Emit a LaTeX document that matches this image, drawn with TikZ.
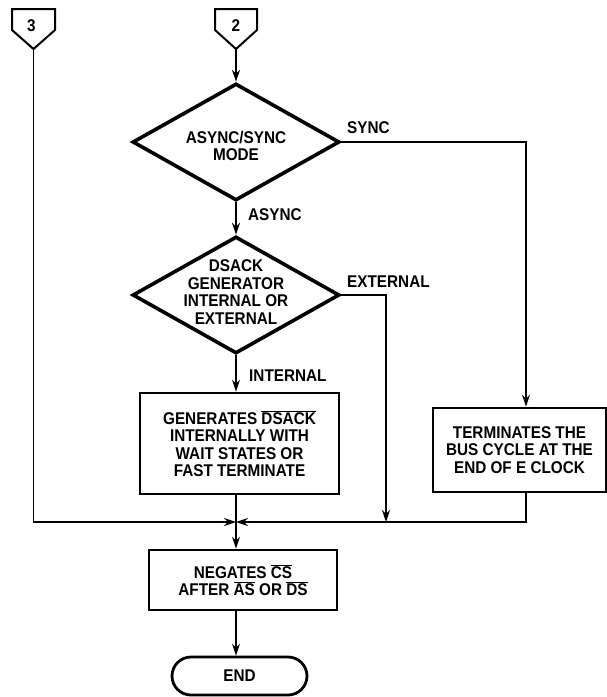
\documentclass[tikz,border=0pt]{standalone}
\usepackage{fontspec}
\setmainfont[FakeStretch=0.9]{Liberation Sans}
\usetikzlibrary{shapes.geometric,shapes.misc,arrows.meta}
\newcommand\ovl[1]{$\overline{\hbox{#1}}$}
\begin{document}
\begin{tikzpicture}[x=1pt,y=-1pt,
  txt/.style={font=\fontsize{17}{17.5}\selectfont\bfseries, align=center, inner sep=0pt},
  dec/.style={draw, shape=diamond, line width=3.6pt, minimum width=207pt, minimum height=117pt, inner sep=0pt},
  proc/.style={draw, rectangle, line width=2.8pt, txt},
  term/.style={draw, rounded rectangle, line width=2.8pt, txt},
  conn/.style={line width=1.8pt},
  arr/.style={conn, -{Stealth[length=12pt,width=8pt,inset=4pt]}},
  lbl/.style={txt, anchor=base west},
  pent/.style={line width=2pt, line join=miter}
]
\useasboundingbox (0,0) rectangle (607,697);

% off-page connectors
\draw[pent] (12,9) -- (55,9) -- (55,30) -- (33.5,49) -- (12,30) -- cycle;
\node[txt] (p3) at (31.5,26) {3};
\coordinate (p3tip) at (33.5,49);
\draw[pent] (215,9) -- (257,9) -- (257,30) -- (236,49) -- (215,30) -- cycle;
\node[txt] (p2) at (236,26) {2};
\coordinate (p2tip) at (236,49);

% decisions
\node[dec] (d1) at (236,142) {};
\node[txt] (d1t) at (236,146) {ASYNC/SYNC\\MODE};
\node[dec] (d2) at (236,295) {};
\node[txt] (d2t) at (236,292) {DSACK\\GENERATOR\\INTERNAL OR\\EXTERNAL};

% processes
\node[proc, minimum width=199pt, minimum height=101pt] (gen) at (239.5,443.5)
  {GENERATES \ovl{DSACK}\\INTERNALLY WITH\\WAIT STATES OR\\FAST TERMINATE};
\node[proc, minimum width=173pt, minimum height=84pt] (trm) at (519.5,450)
  {TERMINATES THE\\BUS CYCLE AT THE\\END OF E CLOCK};
\node[proc, minimum width=188pt, minimum height=60pt] (neg) at (243,580)
  {NEGATES \ovl{CS}\\AFTER \ovl{AS} OR \ovl{DS}};
\node[term, minimum width=135pt, minimum height=38pt] (end) at (239.5,676) {END};

% helper coordinates
\coordinate (m) at (236,522);
\coordinate (xs) at (526,0);
\coordinate (xe) at (386,0);
\coordinate (xc) at (236,0);

% connectors
\draw[arr] (p2tip) -- (d1.north);
\draw[arr] (d1.south) -- (d2.north);
\draw[arr] (d2.south) -- (d2.south |- gen.north);
\draw[arr] (d1.east) -| (trm.north -| xs);
\draw[arr] (d2.east) -| (xe |- m);
\draw[arr] (p3tip) |- (m);
\draw[arr] (trm.south -| xs) |- (m);
\draw[arr] (xc |- gen.south) -- (xc |- neg.north);
\draw[arr] (xc |- neg.south) -- (xc |- end.north);

% branch labels
\node[lbl] (lsync) at (347,133) {SYNC};
\node[lbl] (lasync) at (248,220) {ASYNC};
\node[lbl] (lext) at (347,287) {EXTERNAL};
\node[lbl] (lint) at (249,381) {INTERNAL};
\end{tikzpicture}
\end{document}
